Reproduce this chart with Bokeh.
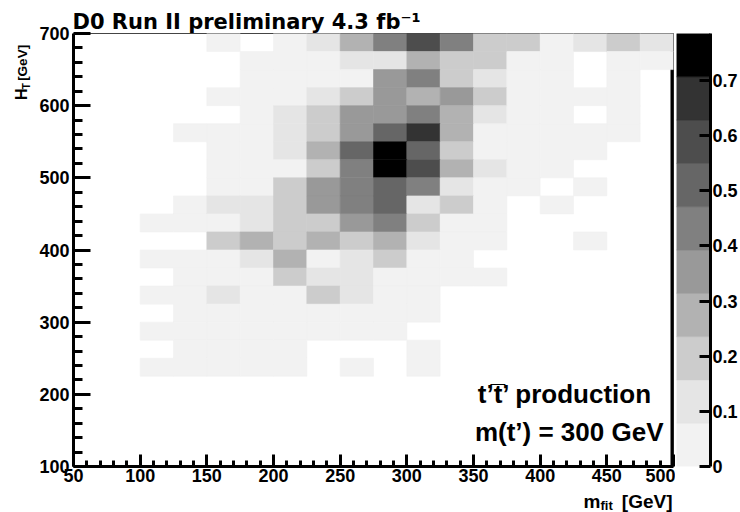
import numpy as np
from bokeh.plotting import figure
from bokeh.models import Range1d, FixedTicker, LinearColorMapper, ColumnDataSource, Label
from bokeh.core.properties import value
from bokeh.layouts import row, column
from bokeh.embed import file_html
from bokeh.resources import INLINE

# ---------------- data ----------------
# lower edges of the m_fit bins (GeV), bin width 25 GeV
mfit_lo = [50, 75, 100, 125, 150, 175, 200, 225, 250, 275, 300, 325, 350, 375, 400, 425, 450, 475]
bin_w = 25

# H_T bin lower edges (GeV) and the bin contents of each H_T row (one value per m_fit bin)
ht_675 = [0, 0, 0, 0, .03, 0, .02, .11, .26, .42, .60, .44, .19, .18, .02, .10, .18, .11]
ht_650 = [0, 0, 0, 0, 0, .02, .03, .03, .10, .12, .28, .20, .17, .03, .02, 0, .02, .03]
ht_625 = [0, 0, 0, 0, 0, .02, .02, .03, .04, .36, .45, .19, .12, .02, .03, 0, .02, 0]
ht_600 = [0, 0, 0, 0, .02, .03, .03, .11, .20, .35, .28, .37, .19, .03, .02, .02, .03, 0]
ht_575 = [0, 0, 0, 0, 0, .02, .12, .21, .36, .37, .44, .29, .10, .03, .02, 0, .02, 0]
ht_550 = [0, 0, 0, .02, .03, .03, .13, .20, .35, .52, .68, .28, .03, .02, .03, .02, .02, 0]
ht_525 = [0, 0, 0, 0, .03, .02, .12, .29, .50, .76, .51, .18, .03, .02, .03, .02, 0, 0]
ht_500 = [0, 0, 0, 0, .02, .03, .05, .19, .43, .785, .60, .27, .11, .02, .03, 0, 0, 0]
ht_475 = [0, 0, 0, 0, .03, .02, .20, .36, .44, .52, .43, .12, .03, .02, 0, .02, 0, 0]
ht_450 = [0, 0, 0, .02, .11, .12, .19, .35, .43, .51, .12, .20, .03, 0, .02, 0, 0, 0]
ht_425 = [0, 0, .02, .03, .03, .10, .19, .20, .36, .43, .21, .03, .02, 0, 0, 0, 0, 0]
ht_400 = [0, 0, 0, 0, .19, .28, .20, .27, .19, .29, .12, .02, .03, 0, 0, .02, 0, 0]
ht_375 = [0, 0, .02, .03, .02, .11, .29, .03, .12, .20, .02, .03, 0, 0, 0, 0, 0, 0]
ht_350 = [0, 0, 0, .03, .02, .03, .21, .11, .12, .02, .03, .02, .02, 0, 0, 0, 0, 0]
ht_325 = [0, 0, .02, .03, .12, .02, .03, .19, .11, .03, .02, 0, 0, 0, 0, 0, 0, 0]
ht_300 = [0, 0, 0, .02, .03, .02, .03, .02, .03, .02, .03, 0, 0, 0, 0, 0, 0, 0]
ht_275 = [0, 0, .03, .02, .03, .02, .03, .02, .03, .02, 0, 0, 0, 0, 0, 0, 0, 0]
ht_250 = [0, 0, 0, .02, .03, .02, .02, 0, 0, 0, .02, 0, 0, 0, 0, 0, 0, 0]
ht_225 = [0, 0, .02, .03, .02, .03, .02, 0, .02, 0, .02, 0, 0, 0, 0, 0, 0, 0]

ht_lo = [675, 650, 625, 600, 575, 550, 525, 500, 475, 450, 425, 400, 375, 350, 325, 300, 275, 250, 225]
ht_rows = [ht_675, ht_650, ht_625, ht_600, ht_575, ht_550, ht_525, ht_500, ht_475, ht_450,
           ht_425, ht_400, ht_375, ht_350, ht_325, ht_300, ht_275, ht_250, ht_225]

# colour scale (z axis)
z_max = 0.785
n_levels = 10
grey_palette = ["#f2f2f2", "#e5e5e5", "#cccccc", "#b2b2b2", "#999999",
                "#808080", "#666666", "#4d4d4d", "#333333", "#000000"]
cbar_ticks = [0, 0.1, 0.2, 0.3, 0.4, 0.5, 0.6, 0.7]
cbar_labels = ["0", "0.1", "0.2", "0.3", "0.4", "0.5", "0.6", "0.7"]

# axes
x_major = [50, 100, 150, 200, 250, 300, 350, 400, 450, 500]
x_minor = [v for v in range(50, 501, 10) if v not in x_major]
y_major = [100, 200, 300, 400, 500, 600, 700]
y_minor = [v for v in range(100, 701, 20) if v not in y_major]

title_text = "D0 Run II preliminary 4.3 fb\u207b\u00b9"

# ---------------- build cells ----------------
left, right, bottom, top, zz = [], [], [], [], []
for h, vals in zip(ht_lo, ht_rows):
    for m, z in zip(mfit_lo, vals):
        if z > 0:
            left.append(m); right.append(m + bin_w)
            bottom.append(h); top.append(h + bin_w)
            zz.append(z)
src = ColumnDataSource(dict(left=left, right=right, bottom=bottom, top=top, z=zz))
mapper = LinearColorMapper(palette=grey_palette, low=0, high=z_max)

BOLD = "Liberation Sans"
ROW_H = 489
STRIP_H = 512 - ROW_H
MID = 0.3465   # distance from alphabetic baseline to the text box middle, in em
ROT_SHIFT = 22  # rotated text is drawn lower by about this many px: compensate

p = figure(width=643, height=ROW_H, x_range=Range1d(50, 500), y_range=Range1d(100, 700),
           output_backend="svg", toolbar_location=None, title=title_text,
           min_border_left=41, min_border_right=2, min_border_top=33, min_border_bottom=23)
p.title.text_font = "DejaVu Sans"
p.title.text_font_style = "bold"
p.title.text_font_size = "21px"
p.title.text_color = "black"
p.title.align = "left"
p.title.offset = -1
p.title.standoff = 0
p.xgrid.visible = False
p.ygrid.visible = False
p.outline_line_color = "#444444"
p.outline_line_width = 1
p.background_fill_color = "white"
p.border_fill_color = "white"

# thick right frame line (drawn below the cells)
p.segment(x0=[500], y0=[100], x1=[500], y1=[700], line_color="black", line_width=6)

p.quad(left="left", right="right", bottom="bottom", top="top", source=src,
       fill_color={"field": "z", "transform": mapper},
       line_color={"field": "z", "transform": mapper}, line_width=0.6)

xa = p.xaxis[0]
xa.ticker = FixedTicker(ticks=x_major, minor_ticks=x_minor)
xa.major_tick_in = 12
xa.minor_tick_in = 6
xa.major_label_standoff = 2
ya = p.yaxis[0]
ya.ticker = FixedTicker(ticks=y_major, minor_ticks=y_minor)
ya.major_tick_in = 17
ya.minor_tick_in = 9
ya.major_label_standoff = 4
for ax in (xa, ya):
    ax.axis_line_width = 3
    ax.axis_line_color = "black"
    ax.major_tick_line_width = 3
    ax.minor_tick_line_width = 3
    ax.major_tick_out = 0
    ax.minor_tick_out = 0
    ax.major_label_text_font = BOLD
    ax.major_label_text_font_style = "bold"
    ax.major_label_text_font_size = "18px"
    ax.major_label_text_color = "black"

def lab(text, x, y_base, size_px, align="right"):
    p.add_layout(Label(x=x, y=y_base + MID * size_px, x_units="screen", y_units="screen",
                       text=text, text_font=BOLD, text_font_style="bold",
                       text_font_size=f"{size_px}px", text_color="black",
                       text_align=align, text_baseline="middle"))

lab("t\u2019t\u0305\u2019 production", 579, 63, 26)
lab("m(t\u2019) = 300 GeV", 590, 25, 26)

# ---------------- colour bar ----------------
levels = np.linspace(0, z_max, n_levels + 1)
cb = figure(width=65, height=ROW_H, x_range=Range1d(0, 1), y_range=Range1d(0, z_max),
            output_backend="svg", toolbar_location=None, title=None,
            x_axis_location=None, y_axis_location="right",
            min_border_left=1, min_border_right=28, min_border_top=33, min_border_bottom=23)
cb.xgrid.visible = False
cb.ygrid.visible = False
cb.outline_line_color = None
cb.border_fill_color = "white"
cb.quad(left=0, right=1, bottom=levels[:-1], top=levels[1:],
        fill_color=grey_palette, line_color=grey_palette, line_width=0.6)
ca = cb.yaxis[0]
ca.ticker = FixedTicker(ticks=cbar_ticks, minor_ticks=[])
ca.major_label_overrides = {t: s for t, s in zip(cbar_ticks, cbar_labels)}
ca.axis_line_width = 3
ca.major_tick_line_width = 3
ca.major_tick_in = 11
ca.major_tick_out = 0
ca.minor_tick_in = 0
ca.minor_tick_out = 0
ca.major_label_standoff = 2
ca.major_label_text_font = BOLD
ca.major_label_text_font_style = "bold"
ca.major_label_text_font_size = "18px"
ca.major_label_text_color = "black"

# ---------------- axis-title strips (pixel coordinates) ----------------
def strip(w, h):
    f = figure(width=w, height=h, x_range=Range1d(0, w), y_range=Range1d(0, h),
               output_backend="svg", toolbar_location=None, title=None,
               x_axis_location=None, y_axis_location=None,
               min_border_left=0, min_border_right=0, min_border_top=0, min_border_bottom=0)
    f.grid.visible = False
    f.outline_line_color = None
    f.border_fill_color = "white"
    f.background_fill_color = "white"
    return f

def txt(f, s, x, y_base, size_px, align="left", rotated=False):
    if rotated:   # reads bottom-to-top, baseline given as an x position
        xx, yy, ang = x - MID * size_px, y_base + ROT_SHIFT, np.pi / 2
    else:
        xx, yy, ang = x, y_base + MID * size_px, 0.0
    f.text(x=[xx], y=[yy], text=[s], text_font=value(BOLD), text_font_style="bold",
           text_font_size=f"{size_px}px", text_color="black", text_align=align,
           text_baseline="middle", angle=ang)

# y title:  H_T [GeV]
ytitle = strip(32, ROW_H)
txt(ytitle, "H", 27, 392, 16, rotated=True)
txt(ytitle, "T", 29.5, 404, 10, rotated=True)
txt(ytitle, "[GeV]", 27, 413.5, 13.5, rotated=True)

# x title:  m_fit [GeV]
xtitle = strip(740, STRIP_H)
txt(xtitle, "m", 583, 4.5, 19)
txt(xtitle, "fit", 600, 2.8, 13)
txt(xtitle, "[GeV]", 672, 4.5, 19, align="right")

layout = column(row(ytitle, p, cb), xtitle)
open("out.html", "w").write(file_html(layout, INLINE))
